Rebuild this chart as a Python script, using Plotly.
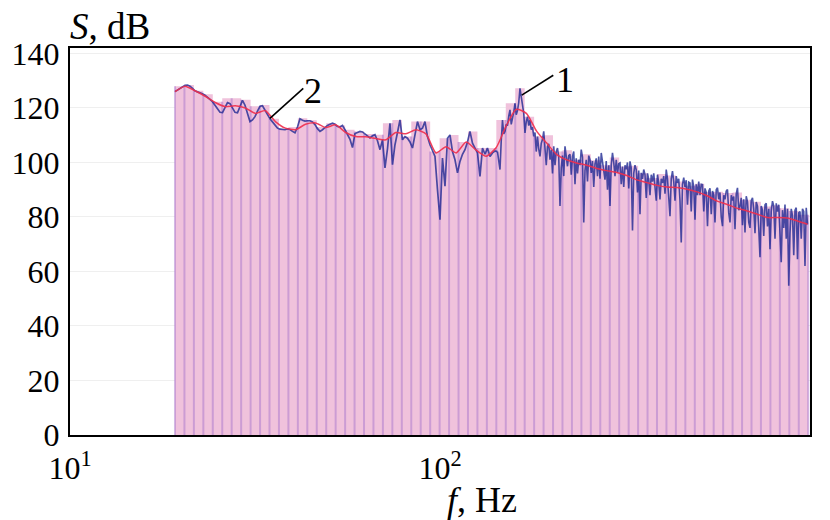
import numpy as np
import plotly.graph_objects as go

# Narrow-band level spectrum (curve 1), dB.
# Low-frequency part, log-spaced grid 19.2 .. 143 Hz
LOW_START, LOW_END = 19.22, 143.0
blue_low_db = [
    126.0, 126.5, 127.2, 127.8, 128.3, 128.4, 128.0, 127.2, 126.3, 125.9,
    125.6, 125.2, 124.7, 124.0, 123.3, 122.3, 121.0, 119.6, 118.4, 118.3,
    120.2, 122.0, 121.6, 119.8, 118.4, 118.2, 120.6, 122.8, 121.0, 118.0,
    115.0, 115.6, 116.8, 118.8, 120.6, 120.8, 119.2, 117.2, 116.0, 114.9,
    113.6, 112.6, 112.2, 112.0, 112.0, 112.3, 112.1, 111.4, 110.9, 113.0,
    116.0, 115.5, 115.2, 115.3, 115.3, 114.9, 113.9, 112.4, 111.4, 112.0,
    112.8, 113.6, 114.0, 114.4, 114.0, 113.2, 113.0, 113.6, 112.0, 110.0,
    108.5, 105.5, 110.6, 111.0, 111.4, 111.2, 110.4, 109.6, 109.0, 109.8,
    110.2, 108.0, 104.7, 108.3, 98.0, 105.0, 114.4, 99.2, 106.5, 111.0,
    115.6, 108.3, 109.5, 108.9, 107.5, 105.3, 110.0, 115.0, 112.0, 112.6,
    115.0, 109.5, 106.5, 104.0, 102.2, 90.0, 79.0, 101.6, 91.3, 108.9,
    110.1, 104.0, 101.0, 96.2, 100.4, 103.0, 104.7, 107.5, 111.4, 107.1,
    105.0, 103.5, 94.9, 105.3, 103.0, 105.3, 102.2, 103.5, 104.2, 104.0,
]

# High-frequency part, finer log-spaced grid 145 .. 985 Hz
HIGH_START, HIGH_END = 145.26, 984.5
blue_high_db = [
    97.4, 108.0, 115.6, 110.5, 111.4, 114.0, 113.5, 117.0,
    119.3, 114.0, 116.0, 118.5, 121.7, 117.5, 119.0, 122.0,
    127.2, 123.0, 121.1, 118.0, 110.8, 115.0, 116.8, 113.5,
    115.6, 112.0, 113.0, 109.6, 111.0, 104.0, 109.5, 105.0,
    102.2, 107.0, 108.5, 111.4, 106.5, 99.0, 105.9, 106.8,
    101.0, 104.7, 96.0, 105.9, 99.0, 104.0, 105.3, 102.0,
    84.0, 98.0, 102.5, 95.0, 105.9, 103.0, 98.6, 102.5,
    103.0, 95.5, 102.2, 104.0, 92.0, 101.5, 96.0, 101.0,
    99.0, 104.7, 102.0, 78.0, 97.0, 101.0, 93.0, 102.5,
    101.0, 96.2, 100.5, 91.0, 99.5, 101.5, 95.0, 102.2,
    94.0, 103.5, 100.0, 97.0, 93.7, 100.5, 90.0, 99.0,
    84.0, 99.0, 103.5, 100.0, 95.0, 101.0, 96.2, 99.5,
    99.8, 92.0, 98.5, 91.0, 99.0, 97.5, 100.0, 90.5,
    100.4, 98.0, 75.0, 96.0, 99.0, 97.4, 89.0, 97.0,
    81.0, 96.2, 94.0, 97.4, 95.5, 87.0, 96.0, 93.7,
    88.0, 95.5, 93.0, 96.0, 92.0, 86.0, 95.5, 92.5,
    86.4, 94.0, 92.5, 95.0, 88.5, 97.4, 94.0, 85.5,
    80.3, 94.0, 96.8, 93.0, 86.0, 95.0, 92.5, 94.0,
    86.0, 70.6, 92.0, 94.4, 91.0, 93.5, 84.5, 92.8,
    92.5, 82.0, 93.7, 91.0, 79.0, 92.0, 88.0, 93.0,
    88.0, 92.0, 91.9, 82.0, 90.5, 89.0, 76.6, 89.5,
    90.5, 81.0, 89.5, 88.0, 78.0, 90.0, 90.7, 86.5,
    89.0, 80.0, 76.6, 88.0, 86.5, 89.5, 90.1, 81.5,
    78.0, 88.0, 86.0, 87.5, 75.5, 88.5, 90.7, 82.5,
    84.0, 87.0, 77.0, 86.5, 74.3, 87.6, 85.5, 78.0,
    76.0, 86.0, 87.0, 83.0, 74.0, 85.5, 84.0, 76.0,
    65.2, 84.0, 82.5, 73.0, 84.5, 85.0, 76.5, 83.0,
    68.2, 82.0, 85.8, 84.0, 72.0, 85.0, 82.0, 84.5,
    70.0, 63.4, 82.5, 76.0, 84.6, 72.0, 83.0, 54.8,
    74.0, 83.0, 80.5, 66.0, 82.5, 83.4, 64.5, 81.5,
    82.0, 72.0, 83.0, 82.0, 62.0, 83.4, 77.3,
]

# Smoothed spectrum (curve 2), dB
RED_START, RED_END = 19.22, 984.5
red_db = [
    126.0, 128.0, 126.3, 124.3, 122.0, 120.5, 120.8, 120.0, 118.0, 119.0,
    115.0, 112.6, 112.0, 114.0, 114.5, 112.8, 113.8, 111.0, 109.5, 109.4,
    108.8, 108.3, 111.0, 110.5, 112.0, 110.5, 103.5, 105.8, 103.5, 107.5,
    104.5, 102.3, 105.5, 113.5, 119.5, 118.0, 111.6, 107.2, 103.0, 101.0,
    99.8, 99.0, 97.8, 97.0, 96.3, 95.2, 93.6, 92.6, 91.6, 91.0,
    90.8, 90.2, 89.2, 87.8, 85.8, 84.6, 83.2, 82.2, 81.0, 79.8,
    79.8, 79.6, 78.5, 77.3,
]

# Band levels (pink columns), dB
BAND_START, BAND_END = 19.22, 988.9
band_db = [
    128.0, 128.4, 126.3, 125.0, 122.3, 123.6, 123.6, 123.0, 120.6, 121.1,
    116.0, 112.5, 113.0, 116.2, 115.5, 113.0, 114.4, 113.6, 112.0, 111.4,
    110.4, 110.2, 114.4, 115.6, 109.5, 115.0, 115.0, 104.0, 108.9, 110.1,
    107.5, 111.4, 105.3, 105.3, 115.6, 121.7, 127.2, 116.8, 109.6, 110.0,
    104.0, 104.5, 101.0, 103.0, 100.8, 99.0, 101.8, 98.5, 98.8, 96.0,
    94.3, 95.8, 95.2, 93.0, 91.5, 92.2, 89.2, 89.3, 88.8, 89.0,
    86.3, 85.6, 83.8, 84.3, 83.2, 82.2, 80.8,
]

x_ticks = [10, 100, 1000]
x_ticktext = ["10<sup>1</sup>", "10<sup>2</sup>", "10<sup>3</sup>"]
y_ticks = [0, 20, 40, 60, 80, 100, 120, 140]

low_f = np.geomspace(LOW_START, LOW_END, len(blue_low_db))
high_f = np.geomspace(HIGH_START, HIGH_END, len(blue_high_db))
red_f = np.geomspace(RED_START, RED_END, len(red_db))
band_edges = np.geomspace(BAND_START, BAND_END, len(band_db) + 1)

SERIF = "Liberation Serif, Times New Roman, serif"
PINK = "rgb(240,194,220)"
BLUE = "rgba(26,36,145,0.78)"

fig = go.Figure()

# pink band columns as a stepped filled area
fig.add_trace(go.Scatter(
    x=band_edges, y=list(band_db) + [band_db[-1]],
    mode="lines", line=dict(width=0, shape="hv"),
    fill="tozeroy", fillcolor=PINK, hoverinfo="skip", showlegend=False,
))

# column separators
sx, sy = [], []
for k, e in enumerate(band_edges):
    left = band_db[k - 1] if k > 0 else band_db[0]
    right = band_db[k] if k < len(band_db) else band_db[-1]
    sx += [e, e, None]
    sy += [0, min(left, right), None]
fig.add_trace(go.Scatter(
    x=sx, y=sy, mode="lines",
    line=dict(color="rgba(175,125,205,0.55)", width=2),
    hoverinfo="skip", showlegend=False,
))

# curve 1 (low part, then the dense high part joined to its last point)
fig.add_trace(go.Scatter(
    x=low_f, y=blue_low_db, mode="lines",
    line=dict(color=BLUE, width=1.7), showlegend=False,
))
fig.add_trace(go.Scatter(
    x=np.concatenate([low_f[-1:], high_f]),
    y=[blue_low_db[-1]] + blue_high_db, mode="lines",
    line=dict(color=BLUE, width=1.6), showlegend=False,
))

# curve 2
fig.add_trace(go.Scatter(
    x=red_f, y=red_db, mode="lines",
    line=dict(color="rgba(240,45,75,0.9)", width=1.5, shape="spline", smoothing=0.6),
    showlegend=False,
))

# leader lines for the curve labels
i_peak = int(np.argmax(blue_high_db))
lead1 = ([high_f[i_peak] * 1.011, 202.4], [blue_high_db[i_peak] - 2.5, 132.0])
lead2 = ([34.7, 42.7], [116.2, 127.2])
for lx, ly in (lead1, lead2):
    fig.add_trace(go.Scatter(
        x=lx, y=ly, mode="lines", line=dict(color="black", width=1.6),
        hoverinfo="skip", showlegend=False,
    ))

annotations = [
    dict(x=np.log10(217.7), y=130.2, xref="x", yref="y", text="1",
         showarrow=False, font=dict(family=SERIF, size=36, color="black")),
    dict(x=np.log10(45.5), y=126.2, xref="x", yref="y", text="2",
         showarrow=False, font=dict(family=SERIF, size=36, color="black")),
    dict(x=-0.003, y=1.055, xref="paper", yref="paper", xanchor="left",
         yanchor="middle", text="<i>S</i>, dB", showarrow=False,
         font=dict(family=SERIF, size=37, color="black")),
    dict(x=0.557, y=-0.168, xref="paper", yref="paper", xanchor="center",
         yanchor="middle", text="<i>f</i>, Hz", showarrow=False,
         font=dict(family=SERIF, size=36, color="black")),
]

fig.update_layout(
    width=830, height=520,
    margin=dict(l=70, r=20, t=48, b=85),
    paper_bgcolor="white", plot_bgcolor="white",
    font=dict(family=SERIF, size=32, color="black"),
    annotations=annotations,
    showlegend=False,
    xaxis=dict(
        type="log", range=[1, 3],
        tickvals=x_ticks, ticktext=x_ticktext,
        showgrid=False, zeroline=False,
        showline=True, linecolor="black", linewidth=2, mirror=True,
        ticks="", ticklabelstandoff=4,
        tickfont=dict(family=SERIF, size=32, color="black"),
    ),
    yaxis=dict(
        range=[0, 142], tickvals=y_ticks,
        showgrid=True, gridcolor="#efefef", gridwidth=1, zeroline=False,
        showline=True, linecolor="black", linewidth=2, mirror=True,
        ticks="", ticklabelstandoff=2,
        tickfont=dict(family=SERIF, size=32, color="black"),
    ),
)

fig.write_html("out.html")
